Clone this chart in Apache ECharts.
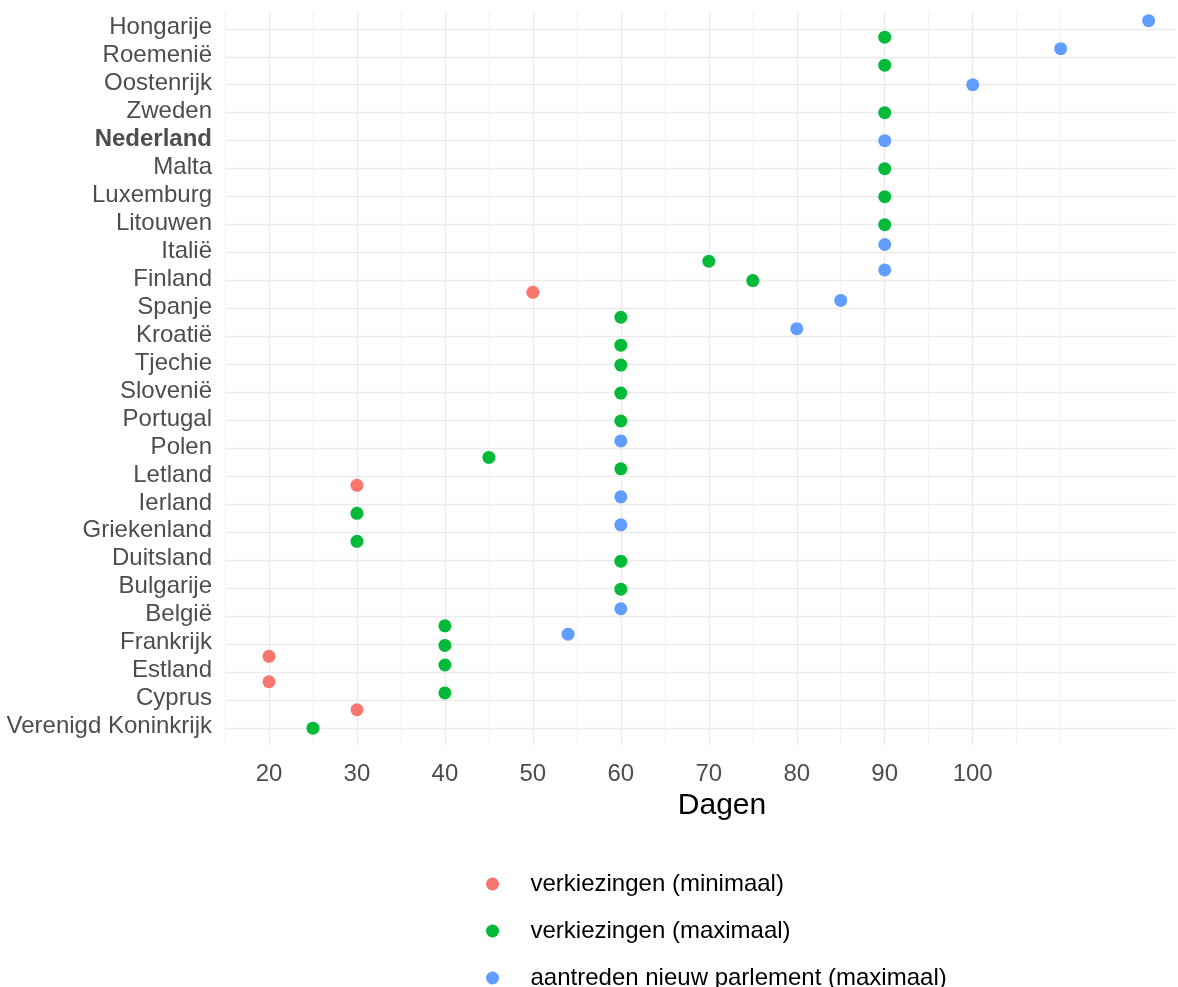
<!DOCTYPE html>
<html>
<head>
<meta charset="utf-8">
<script src="https://cdn.jsdelivr.net/npm/echarts@6/dist/echarts.min.js"></script>
<style>
  html, body { margin: 0; padding: 0; background: #ffffff; }
  #chart { width: 1178px; height: 987px; }
</style>
</head>
<body>
<div id="chart"></div>
<script>
// Countries, bottom (0) to top (25)
const countries = [
  'Verenigd Koninkrijk', 'Cyprus', 'Estland', 'Frankrijk', 'België', 'Bulgarije',
  'Duitsland', 'Griekenland', 'Ierland', 'Letland', 'Polen', 'Portugal',
  'Slovenië', 'Tjechie', 'Kroatië', 'Spanje', 'Finland', 'Italië',
  'Litouwen', 'Luxemburg', 'Malta', 'Nederland', 'Zweden', 'Oostenrijk',
  'Roemenië', 'Hongarije'
];
const boldCountry = 'Nederland';

const seriesNames = [
  'verkiezingen (minimaal)',
  'verkiezingen (maximaal)',
  'aantreden nieuw parlement (maximaal)'
];

// verkiezingen (minimaal): days and (jittered) vertical position in category units
const minDays = [50, 30, 20, 20, 30];
const minPos  = [15.58, 8.68, 2.57, 1.66, 0.66];

// verkiezingen (maximaal)
const maxDays = [90, 90, 90, 90, 90, 90, 70, 75, 60, 60, 60, 60, 60, 45, 60, 30, 30, 60, 60, 40, 40, 40, 40, 25];
const maxPos  = [24.70, 23.70, 22.00, 20.00, 19.00, 18.00, 16.69, 16.00, 14.69, 13.69, 12.98, 11.98, 10.98, 9.68, 9.27, 7.68, 6.68, 5.97, 4.97, 3.66, 2.96, 2.26, 1.26, 0.00];

// aantreden nieuw parlement (maximaal)
const parlDays = [120, 110, 100, 90, 90, 90, 85, 80, 60, 60, 60, 60, 54];
const parlPos  = [25.29, 24.29, 23.00, 21.00, 17.29, 16.38, 15.29, 14.28, 10.27, 8.27, 7.27, 4.27, 3.36];

// x tick labels
const xTickLabels = [20, 30, 40, 50, 60, 70, 80, 90, 100];

const colors = ['#F8766D', '#00BA38', '#619CFF'];
const FONT = "'Liberation Sans', Arial, Helvetica, sans-serif";

function pairs(xs, ys) { return xs.map((x, k) => [x, ys[k]]); }

// x axis: panel runs past the right edge of the picture
const xMin = 15, xMax = 123.0, xStep = 5;
const xLineColors = [];
for (let v = xMin; v <= xMax + 1e-9; v += xStep) {
  if (xTickLabels.indexOf(v) >= 0) xLineColors.push('#EBEBEB');
  else if (v <= 110) xLineColors.push('#F2F2F2');
  else xLineColors.push('rgba(0,0,0,0)');
}
xLineColors.push('rgba(0,0,0,0)');

const chart = echarts.init(document.getElementById('chart'), null, { renderer: 'canvas' });

const rowCenters = [884, 931, 978];
const legends = seriesNames.map((n, k) => ({
  orient: 'vertical',
  left: 486,
  top: rowCenters[k] - 12,
  padding: 0,
  icon: 'circle',
  itemWidth: 66,
  itemHeight: 13,
  textStyle: { color: '#000000', fontSize: 24, fontFamily: FONT },
  data: [n]
}));

const option = {
  backgroundColor: '#ffffff',
  animation: false,
  textStyle: { fontFamily: FONT },
  grid: { left: 225, right: 0, top: 12, bottom: 242, containLabel: false },
  xAxis: {
    type: 'value',
    min: xMin,
    max: xMax,
    interval: xStep,
    name: 'Dagen',
    nameLocation: 'middle',
    nameGap: 40,
    nameTextStyle: { color: '#000000', fontSize: 30, fontFamily: FONT, verticalAlign: 'top', padding: [0, 0, 0, 44] },
    axisLine: { show: false },
    axisTick: { show: false },
    axisLabel: {
      color: '#4D4D4D', fontSize: 24, fontFamily: FONT, margin: 17,
      showMinLabel: true, showMaxLabel: true,
      formatter: function (v) {
        const r = Math.round(v);
        return (Math.abs(v - r) < 1e-6 && xTickLabels.indexOf(r) >= 0) ? String(r) : '';
      }
    },
    splitLine: { show: true, showMaxLine: false, lineStyle: { color: xLineColors, width: 1.4 } }
  },
  yAxis: {
    type: 'value',
    min: -0.6,
    max: 25.6,
    splitNumber: 26,
    minInterval: 1,
    maxInterval: 1,
    axisLine: { show: false },
    axisTick: { show: false },
    axisLabel: {
      color: '#4D4D4D', fontSize: 24, fontFamily: FONT, margin: 13,
      padding: [0, 0, 3, 0],
      showMinLabel: true, showMaxLabel: true,
      formatter: function (v) {
        const r = Math.round(v);
        if (Math.abs(v - r) > 1e-6 || r < 0 || r >= countries.length) return '';
        return countries[r] === boldCountry ? '{b|' + countries[r] + '}' : countries[r];
      },
      rich: {
        b: { fontWeight: 'bold', color: '#4D4D4D', fontSize: 24, fontFamily: FONT }
      }
    },
    splitLine: { show: true, showMinLine: false, showMaxLine: false, lineStyle: { color: '#EBEBEB', width: 1.4 } }
  },
  legend: legends,
  series: [
    { name: seriesNames[0], type: 'scatter', symbolSize: 13, itemStyle: { color: colors[0], opacity: 1 }, data: pairs(minDays, minPos) },
    { name: seriesNames[1], type: 'scatter', symbolSize: 13, itemStyle: { color: colors[1], opacity: 1 }, data: pairs(maxDays, maxPos) },
    { name: seriesNames[2], type: 'scatter', symbolSize: 13, itemStyle: { color: colors[2], opacity: 1 }, data: pairs(parlDays, parlPos) }
  ]
};

chart.setOption(option);
</script>
</body>
</html>
